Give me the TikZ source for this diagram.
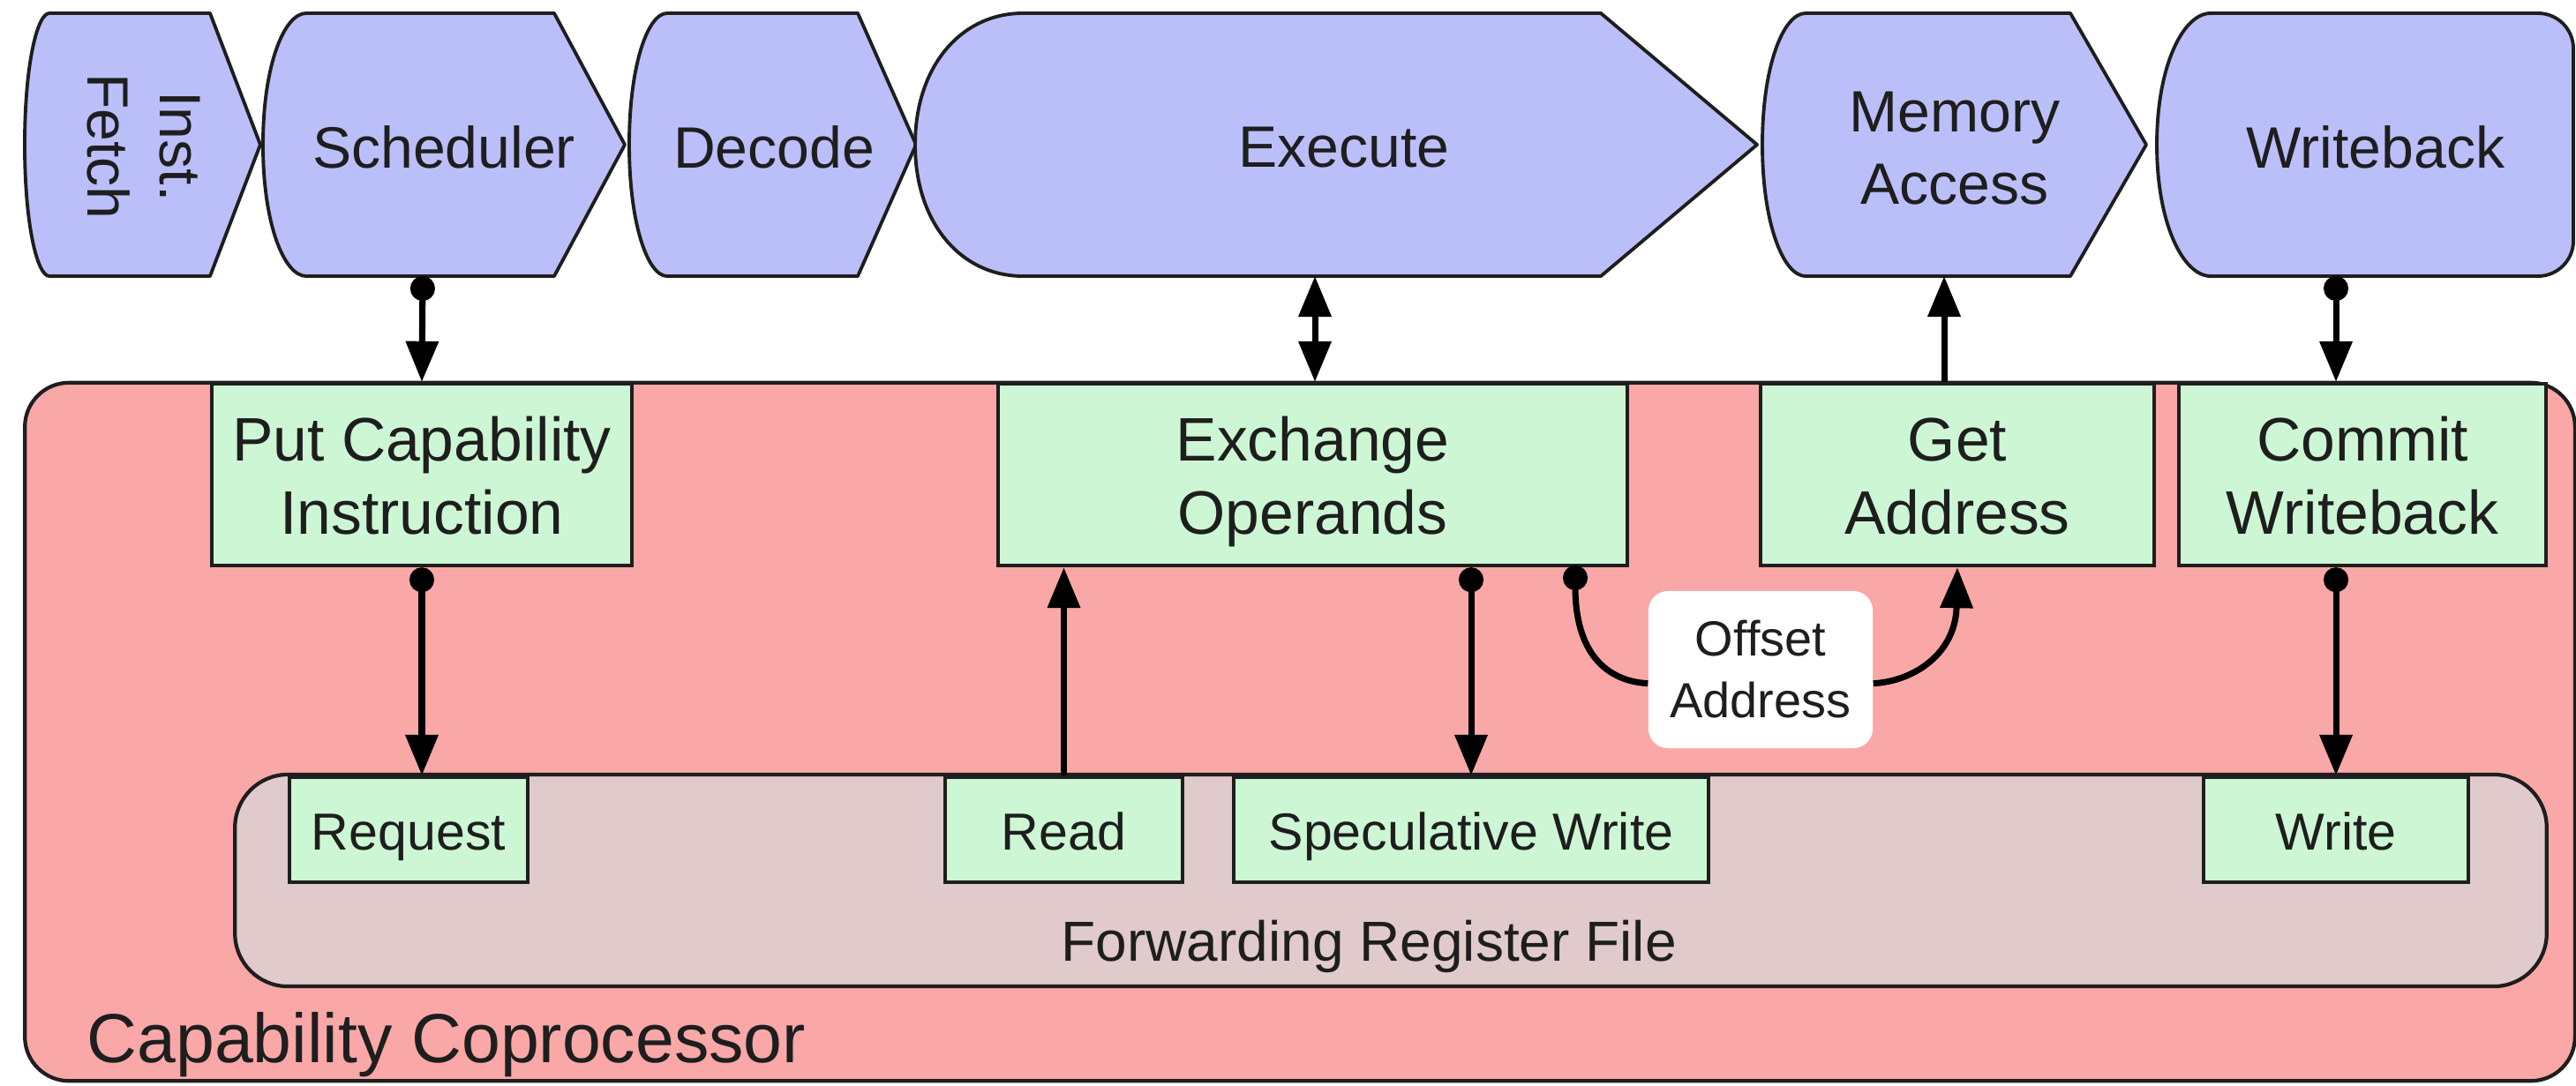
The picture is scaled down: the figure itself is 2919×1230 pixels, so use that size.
\documentclass[tikz,border=0pt]{standalone}
\usepackage{fontspec}
\setmainfont{Liberation Sans}
\usetikzlibrary{arrows.meta}
\definecolor{stagefill}{HTML}{BBBFF9}
\definecolor{copfill}{HTML}{F9A7A7}
\definecolor{unitfill}{HTML}{CDF7D4}
\definecolor{rffill}{HTML}{E0CACC}
\definecolor{ink}{HTML}{1E1E1E}
\newcommand\setfs[2]{\fontsize{#1}{#2}\selectfont}
% line struts so that every box sets its lines on the same baselines
\newcommand\unitstrut{\rule[-4.3pt]{0pt}{23.5pt}}
\newcommand\smallstrut{\rule[-3.6pt]{0pt}{20pt}}
\tikzset{
  tipT/.tip={Triangle[length=0.46cm,width=0.36cm]},
  tipO/.tip={Circle[length=0.28cm]},
  stage/.style={draw=ink, line width=1.1pt, fill=stagefill, line join=round},
  stagetext/.style={text=ink, align=center, inner sep=0pt, font=\setfs{18.8pt}{23.3pt}},
  unit/.style={draw=ink, line width=1.2pt, fill=unitfill, text=ink, align=center, inner sep=0pt},
  bigunit/.style={unit, minimum height=2.06cm, font=\setfs{19.8pt}{23.6pt}},
  smallunit/.style={unit, minimum height=1.19cm, font=\setfs{16.8pt}{20pt}},
  conn/.style={draw=black, line width=2pt},
}
\begin{document}
\begin{tikzpicture}[x=0.01cm, y=-0.01cm]
\useasboundingbox (0,0) rectangle (2919,1230);

% pipeline stages: curved left side, pointed right side
\draw[stage] (56,15) -- (238,15) -- (295,164) -- (238,313) -- (56,313)
  .. controls (42,313) and (28,254) .. (28,164) .. controls (28,74) and (42,15) .. (56,15) -- cycle;
\draw[stage] (347,15) -- (628,15) -- (708,164) -- (628,313) -- (347,313)
  .. controls (322,313) and (298,254) .. (298,164) .. controls (298,74) and (322,15) .. (347,15) -- cycle;
\draw[stage] (756,15) -- (972,15) -- (1038,164) -- (972,313) -- (756,313)
  .. controls (734,313) and (713,254) .. (713,164) .. controls (713,74) and (734,15) .. (756,15) -- cycle;
\draw[stage] (1159,15) -- (1814,15) -- (1991,164) -- (1814,313) -- (1159,313)
  .. controls (1090,313) and (1037,254) .. (1037,164) .. controls (1037,74) and (1090,15) .. (1159,15) -- cycle;
\draw[stage] (2046,15) -- (2346,15) -- (2432,164) -- (2346,313) -- (2046,313)
  .. controls (2021,313) and (1997,254) .. (1997,164) .. controls (1997,74) and (2021,15) .. (2046,15) -- cycle;
\draw[stage] (2505,15) -- (2876,15) .. controls (2898,15) and (2916,33) .. (2916,55) -- (2916,273)
  .. controls (2916,295) and (2898,313) .. (2876,313) -- (2505,313)
  .. controls (2474,313) and (2444,254) .. (2444,164) .. controls (2444,74) and (2474,15) .. (2505,15) -- cycle;

\node[stagetext, rotate=-90] (ifetch) at (163,166) {Inst.\\Fetch};
\node[stagetext] (sched) at (503,167) {Scheduler};
\node[stagetext] (dec) at (877,167) {Decode};
\node[stagetext] (exe) at (1523,167) {Execute};
\node[stagetext] (mem) at (2215,168) {Memory\\Access};
\node[stagetext] (wb) at (2692,167) {Writeback};

\coordinate (schedB) at (479,313);
\coordinate (execB) at (1490,313);
\coordinate (memB) at (2203,313);
\coordinate (wbB) at (2647,313);

% coprocessor and register file
\node[draw=ink, line width=1.2pt, fill=copfill, rounded corners=0.5cm,
      minimum width=28.88cm, minimum height=7.91cm, inner sep=0pt] (cop) at (1473,829.5) {};
\node[draw=ink, line width=1.2pt, fill=rffill, rounded corners=0.6cm,
      minimum width=26.18cm, minimum height=2.40cm, inner sep=0pt] (rf) at (1576,998) {};
\node[anchor=base west, inner sep=0pt, text=ink, font=\setfs{22.4pt}{26pt}] (coplabel) at (98,1204) {Capability Coprocessor};
\node[anchor=base west, inner sep=0pt, text=ink, font=\setfs{18.2pt}{22pt}] (rflabel) at (1202,1089) {Forwarding Register File};

% functional units
\node[bigunit, minimum width=4.76cm] (pci) at (478,538) {\unitstrut Put Capability\\\unitstrut Instruction};
\node[bigunit, minimum width=7.13cm] (ex) at (1487.5,538) {\unitstrut Exchange\\\unitstrut Operands};
\node[bigunit, minimum width=4.46cm] (ga) at (2218,538) {\unitstrut Get\\\unitstrut Address};
\node[bigunit, minimum width=4.16cm] (cw) at (2677,538) {\unitstrut Commit\\\unitstrut Writeback};
\node[smallunit, minimum width=2.70cm] (rq) at (463,940.5) {\smallstrut Request};
\node[smallunit, minimum width=2.69cm] (rd) at (1205.5,940.5) {\smallstrut Read};
\node[smallunit, minimum width=5.38cm] (sw) at (1667,940.5) {\smallstrut Speculative Write};
\node[smallunit, minimum width=3.00cm] (wr) at (2647,940.5) {\smallstrut Write};

\node[fill=white, rounded corners=0.22cm, minimum width=2.54cm, minimum height=1.78cm, inner sep=0pt,
      align=center, text=ink, font=\setfs{15.9pt}{19.9pt}] (offs) at (1995,759) {Offset\\Address};
\coordinate (exO) at (1785,641);

% connections
\draw[conn, tipO-tipT] (schedB) -- (pci.north);
\draw[conn, tipT-tipT] (execB) -- (execB |- ex.north);
\draw[conn, -tipT] (memB |- ga.north) -- (memB);
\draw[conn, tipO-tipT] (wbB) -- (wbB |- cw.north);
\draw[conn, tipO-tipT] (pci.south) -- (pci.south |- rq.north);
\draw[conn, -tipT] (rd.north) -- (rd.north |- ex.south);
\draw[conn, tipO-tipT] (ex.south -| sw.north) -- (sw.north);
\draw[conn, tipO-tipT] (cw.south -| wr.north) -- (wr.north);
\draw[conn, tipO-] (exO) .. controls (1785,740) and (1820,772) .. (offs.187);
\draw[conn, -tipT] (offs.353) .. controls (2170,772) and (2216,740) .. (ga.south);
\end{tikzpicture}
\end{document}
